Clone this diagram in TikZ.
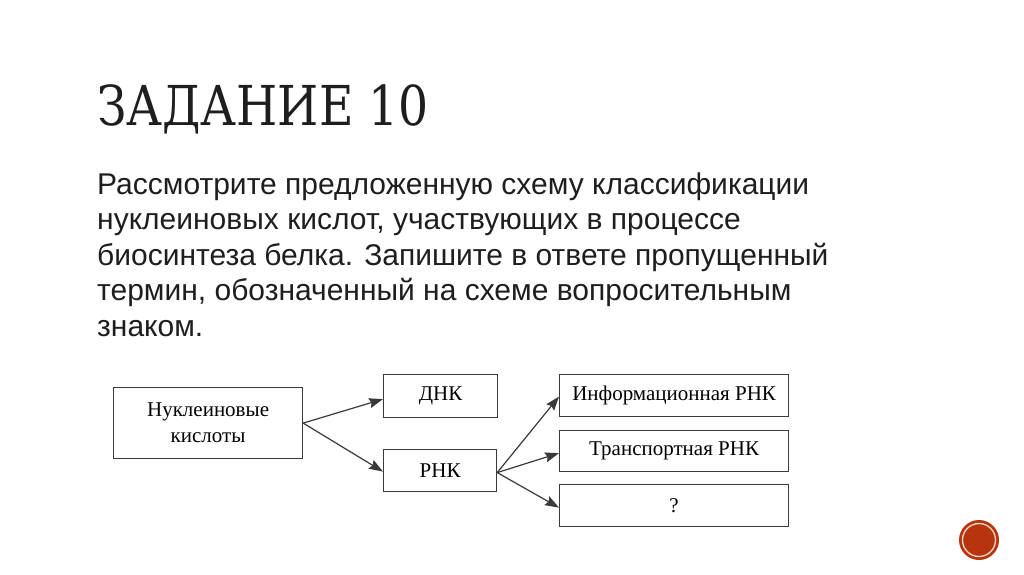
\documentclass[tikz,border=0pt]{standalone}
\usepackage{fontspec}
\usepackage{graphicx}
\setmainfont{Liberation Serif}
\newfontfamily\titlefont{DejaVu Serif}
\newfontfamily\bodyfont{Liberation Sans}
\usetikzlibrary{arrows.meta}
\definecolor{boxline}{HTML}{3A3A3A}
\definecolor{bodytext}{HTML}{1E1E1E}
\definecolor{dotred}{HTML}{B8340E}
\definecolor{dotring}{HTML}{F6D9C8}
\tikzset{
  bodyline/.style={anchor=base west, inner sep=0pt, text=bodytext, font=\bodyfont\fontsize{30}{30}\selectfont},
  cbox/.style={draw=boxline, line width=1.2pt, anchor=north west, inner sep=0pt, align=center, font=\fontsize{21}{26}\selectfont, text=black},
  arr/.style={draw=boxline, line width=1.2pt, -{Stealth[length=14pt,width=10pt,inset=2pt]}},
}
\begin{document}
\begin{tikzpicture}[x=1pt,y=-1pt]
\useasboundingbox[fill=white] (0,0) rectangle (1024,574);
% title
\node[anchor=base west, inner sep=0pt, text=bodytext, font=\titlefont\fontsize{55}{55}\selectfont] (title) at (97,125) {\scalebox{0.86}[1]{ЗАДАНИЕ 10}};
% body text
\node[bodyline] (l1) at (97,194) {Рассмотрите предложенную схему классификации};
\node[bodyline] (l2) at (97,229.5) {нуклеиновых кислот, участвующих в процессе};
\node[bodyline] (l3) at (97,265) {биосинтеза белка. Запишите в ответе пропущенный};
\node[bodyline] (l4) at (97,300.5) {термин, обозначенный на схеме вопросительным};
\node[bodyline] (l5) at (97,336) {знаком.};
% boxes
\node[cbox, minimum width=189pt, minimum height=71pt] (nk) at (113,387) {Нуклеиновые\\кислоты};
\node[cbox, minimum width=114pt, minimum height=43pt] (dnk) at (383,374) {ДНК};
\node[cbox, minimum width=113pt, minimum height=42pt] (rnk) at (383,449) {РНК};
\node[cbox, minimum width=229pt, minimum height=42pt] (irnk) at (559,374) {Информационная РНК};
\node[cbox, minimum width=229pt, minimum height=41pt] (trnk) at (559,430) {Транспортная РНК};
\node[cbox, minimum width=229pt, minimum height=42pt] (q) at (559,484) {?};
% connectors
\draw[arr] (nk.east) -- ([yshift=-3pt]dnk.west);
\draw[arr] (nk.east) -- ([yshift=-1pt]rnk.west);
\draw[arr] ([yshift=-2pt]rnk.east) -- ([yshift=-1pt]irnk.west);
\draw[arr] ([yshift=-2pt]rnk.east) -- ([yshift=-2pt]trnk.west);
\draw[arr] ([yshift=-2pt]rnk.east) -- ([yshift=-2pt]q.west);
% page dot
\node[circle, fill=dotred, minimum size=40pt, inner sep=0pt] (dot) at (979,540) {};
\draw[dotring, line width=1.3pt] (dot.center) circle (16.5pt);
\end{tikzpicture}
\end{document}
